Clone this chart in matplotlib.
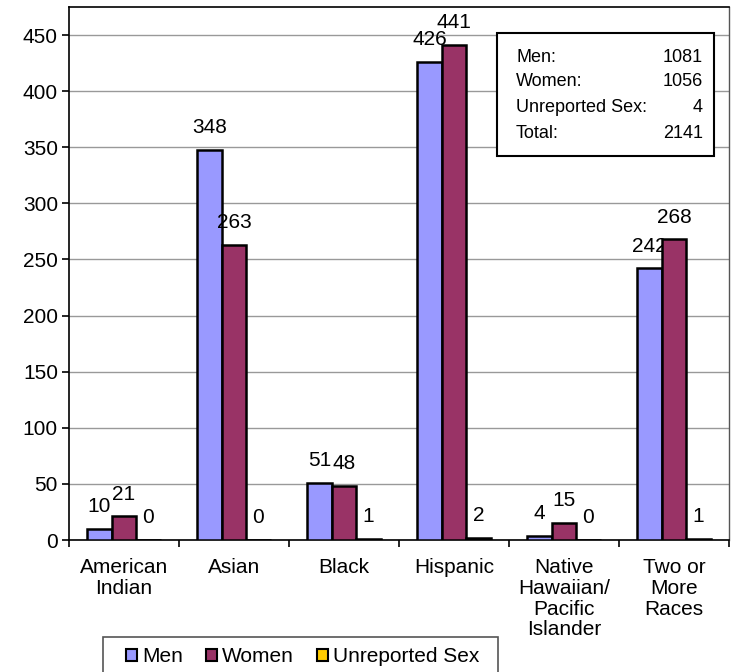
import matplotlib
matplotlib.use("Agg")
import matplotlib.pyplot as plt
from matplotlib.patches import Patch
import numpy as np

plt.rcParams['font.family'] = ['Liberation Sans', 'DejaVu Sans']

categories = ["American\nIndian", "Asian", "Black", "Hispanic",
              "Native\nHawaiian/\nPacific\nIslander", "Two or\nMore\nRaces"]
men = [10, 348, 51, 426, 4, 242]
women = [21, 263, 48, 441, 15, 268]
unreported = [0, 0, 1, 2, 0, 1]
series_names = ["Men", "Women", "Unreported Sex"]
colors = ["#9999FF", "#993366", "#FFCC00"]
yticks = [0, 50, 100, 150, 200, 250, 300, 350, 400, 450]
summary_labels = ["Men:", "Women:", "Unreported Sex:", "Total:"]
summary_values = ["1081", "1056", "4", "2141"]

FS = 15

fig = plt.figure(figsize=(7.33, 6.72), dpi=100)
ax = fig.add_axes([69/733, 1-540/672, (729-69)/733, (540-7)/672])

x = np.arange(len(categories))
w = 0.2227
for i, (vals, c) in enumerate(zip([men, women, unreported], colors)):
    pos = x + (i - 1) * w
    ax.bar(pos, vals, width=w, color=c, edgecolor='black', linewidth=1.8, zorder=3)
    for p, v in zip(pos, vals):
        ax.annotate(str(v), (p, v), xytext=(0, 16), textcoords='offset points',
                    ha='center', va='center', fontsize=FS)

ax.set_xlim(-0.5, len(categories) - 0.5)
ax.set_ylim(0, 475)
ax.set_yticks(yticks)
ax.set_yticklabels([str(t) for t in yticks], fontsize=FS)
ax.yaxis.grid(True, color='#999999', linewidth=1, zorder=0)
ax.set_axisbelow(True)

ax.set_xticks(np.arange(len(categories) + 1) - 0.5)
ax.set_xticklabels([])
ax.set_xticks(x, minor=True)
ax.set_xticklabels(categories, minor=True, fontsize=FS, linespacing=1.12, va='top')
ax.tick_params(axis='x', which='minor', length=0, pad=13)
ax.tick_params(axis='x', which='major', length=5, width=1.2, direction='out')
ax.tick_params(axis='y', length=5, width=1.2, direction='out', pad=3)

for s in ['left', 'bottom', 'top']:
    ax.spines[s].set_linewidth(1.2)
    ax.spines[s].set_color('black')
ax.spines['right'].set_linewidth(1.0)
ax.spines['right'].set_color('#555555')

# Summary box
bx0, by0, bx1, by1 = 497, 33, 714, 156
rect = plt.Rectangle((bx0/733, 1-by1/672), (bx1-bx0)/733, (by1-by0)/672,
                     transform=fig.transFigure, facecolor='white', edgecolor='black',
                     linewidth=1.5, zorder=10)
fig.patches.append(rect)
rows_y = [57, 82, 108, 133]
for lab, val, yy in zip(summary_labels, summary_values, rows_y):
    fig.text(516/733, 1-yy/672, lab, ha='left', va='center', fontsize=13, zorder=11)
    fig.text(703/733, 1-yy/672, val, ha='right', va='center', fontsize=13, zorder=11)

# Legend frame (drawn manually for asymmetric padding)
lx0, ly0, lx1, ly1 = 103, 637, 498, 690
lrect = plt.Rectangle((lx0/733, 1-ly1/672), (lx1-lx0)/733, (ly1-ly0)/672,
                      transform=fig.transFigure, facecolor='white', edgecolor='#555555',
                      linewidth=1.2, zorder=1)
fig.patches.append(lrect)

handles = [Patch(facecolor=c, edgecolor='black', linewidth=1.5) for c in colors]
leg = fig.legend(handles, series_names, loc='center left',
                 bbox_to_anchor=(126/733, 1-657/672), ncol=3, fontsize=FS,
                 frameon=False,
                 handlelength=0.55, handleheight=0.55, handletextpad=0.22,
                 columnspacing=1.1, borderpad=0, borderaxespad=0)

fig.savefig("out.png", dpi=100)
